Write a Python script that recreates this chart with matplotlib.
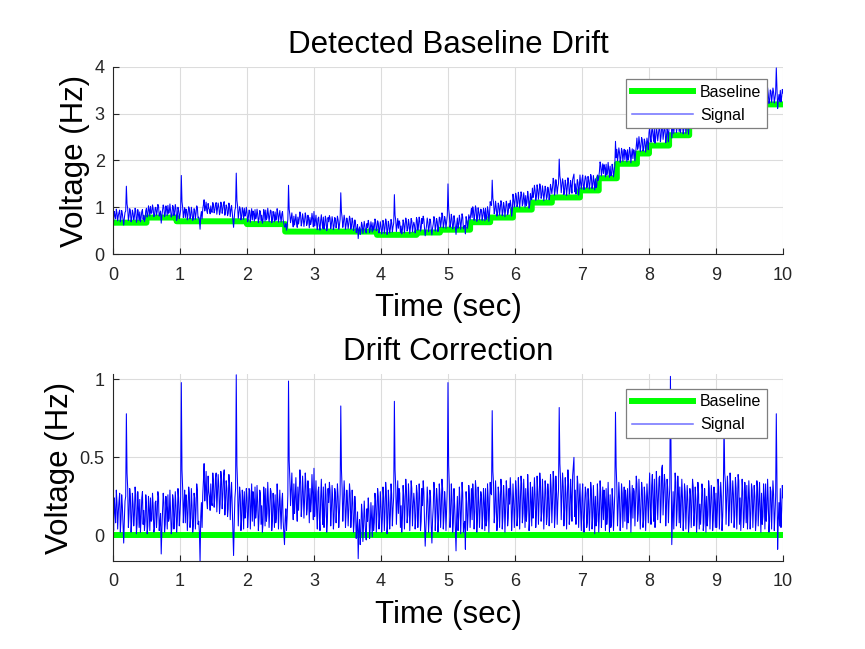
import numpy as np
import matplotlib
matplotlib.use("Agg")
import matplotlib.pyplot as plt

plt.rcParams['font.family'] = ['Liberation Sans', 'DejaVu Sans']

# drift-corrected signal, sampled every 0.02 s from 0 to 10 s
dt = 0.02
corrected = [
    0.12, 0.24, 0.08, 0.21, 0.15, 0.27, 0.10, 0.19, -0.05, 0.22, 0.78, 0.30, 0.14, 0.25, 0.09, 0.20, 0.13, 0.26, 0.07, 0.18, 0.23, 0.11, 0.28, 0.16, 0.09,
    0.20, 0.06, 0.17, 0.24, 0.10, 0.19, 0.04, 0.22, 0.13, 0.25, 0.08, -0.12, 0.16, 0.21, 0.07, 0.18, 0.26, 0.11, 0.15, 0.05, 0.23, 0.12, 0.19, 0.09, 0.24,
    0.14, 0.98, 0.30, 0.20, 0.08, 0.22, 0.15, 0.27, 0.11, 0.19, 0.06, 0.24, 0.17, 0.29, 0.09, -0.17, 0.21, 0.26, 0.46, 0.30, 0.22, 0.38, 0.25, 0.33, 0.19,
    0.34, 0.24, 0.40, 0.27, 0.31, 0.20, 0.36, 0.26, 0.42, 0.22, 0.30, 0.17, 0.33, 0.25, 0.19, -0.13, 0.24, 1.03, 0.32, 0.18, 0.26, 0.10, 0.22, 0.28, 0.15,
    0.24, 0.13, 0.29, 0.18, 0.09, 0.23, 0.31, 0.16, 0.21, 0.11, 0.27, 0.19, 0.08, 0.25, 0.30, 0.14, 0.22, 0.17, 0.28, 0.10, 0.20, 0.26, 0.12, 0.23, 0.18,
    0.15, 0.22, 0.09, -0.06, 0.17, 0.12, 0.99, 0.36, 0.29, 0.21, 0.33, 0.24, 0.18, 0.31, 0.27, 0.35, 0.20, 0.28, 0.23, 0.32, 0.17, 0.26, 0.30, 0.21, 0.27,
    0.43, 0.22, 0.15, 0.28, 0.11, 0.24, 0.19, 0.31, 0.13, 0.26, 0.09, 0.21, 0.29, 0.16, 0.23, 0.12, 0.27, 0.18, 0.25, 0.14, 0.83, 0.30, 0.20, 0.26, 0.15,
    0.22, 0.17, 0.27, 0.13, 0.21, 0.09, 0.18, 0.04, -0.15, 0.10, 0.02, 0.14, 0.06, 0.12, -0.03, 0.09, 0.16, 0.05, 0.11, 0.19, 0.08, 0.22, 0.14, 0.25, 0.12,
    0.18, 0.10, 0.24, 0.15, 0.28, 0.08, 0.21, 0.13, 0.26, 0.17, 0.86, 0.31, 0.22, 0.14, 0.27, 0.19, 0.11, 0.25, 0.20, 0.29, 0.13, 0.23, 0.16, 0.30, 0.18,
    0.21, 0.12, 0.27, 0.16, 0.24, 0.09, 0.19, 0.28, -0.07, 0.15, 0.22, 0.11, 0.25, -0.05, 0.18, 0.29, 0.14, 0.23, 0.10, 0.26, 0.17, 0.30, 0.12, 0.21, 0.16,
    0.98, 0.32, 0.14, 0.23, 0.08, 0.19, -0.10, 0.25, 0.12, 0.21, 0.16, 0.27, 0.07, -0.09, 0.20, 0.13, 0.26, 0.18, 0.10, 0.24, 0.15, 0.29, 0.11, 0.22, 0.17,
    0.25, 0.13, 0.21, 0.30, 0.10, 0.24, 0.18, 0.27, 0.80, 0.33, 0.15, 0.22, 0.09, 0.26, 0.19, 0.31, 0.12, 0.23, 0.17, 0.28, 0.11, 0.20, 0.26, 0.14, 0.22,
    0.18, 0.29, 0.12, 0.25, 0.20, 0.33, 0.14, 0.23, 0.30, 0.16, 0.27, 0.10, 0.22, 0.31, 0.19, 0.26, 0.13, 0.28, 0.21, 0.34, 0.15, 0.24, 0.18, 0.29, 0.12,
    0.26, 0.17, 0.30, 0.21, 0.35, 0.14, 0.28, 0.22, 0.82, 0.36, 0.24, 0.31, 0.16, 0.27, 0.20, 0.33, 0.13, 0.25, 0.38, 0.50, 0.29, 0.18, 0.32, 0.22, 0.15,
    0.24, 0.11, 0.20, 0.27, 0.08, 0.22, 0.16, 0.29, 0.12, 0.19, 0.25, 0.09, 0.21, 0.14, 0.28, 0.17, 0.10, 0.23, 0.30, 0.13, 0.19, 0.26, 0.07, 0.22, 0.15,
    0.79, 0.31, 0.18, 0.24, 0.12, 0.27, 0.20, 0.09, 0.23, 0.30, 0.15, 0.26, 0.19, 0.11, 0.28, 0.21, 0.33, 0.14, 0.22, 0.17, 0.29, 0.10, 0.25, 0.18, 0.23,
    0.27, 0.18, 0.32, 0.21, 0.36, 0.15, 0.29, 0.24, 0.38, 0.19, 0.45, 0.26, 0.33, 0.17, 0.30, 0.22, 1.02, -0.06, 0.28, 0.20, 0.34, 0.16, 0.27, 0.31, 0.19,
    0.24, 0.12, 0.28, 0.17, 0.22, 0.09, 0.26, 0.19, 0.31, 0.14, 0.23, 0.11, 0.27, 0.20, 0.16, 0.29, 0.08, 0.21, 0.25, 0.13, 0.30, 0.18, 0.24, 0.10, 0.22,
    0.27, 0.15, 0.31, 0.20, 0.25, 0.12, 0.74, 0.34, 0.23, 0.29, 0.16, 0.33, 0.21, 0.26, 0.13, 0.30, 0.19, 0.35, 0.24, 0.17, 0.28, 0.11, 0.26, 0.32, 0.18,
    0.23, 0.14, 0.29, 0.18, 0.25, 0.10, 0.31, 0.20, 0.16, 0.27, 0.12, 0.24, 0.33, 0.17, 0.22, 0.09, 0.28, 0.19, 0.26, 0.13, 0.78, -0.09, 0.21, 0.30, 0.16,
    0.24,
]

# in-between samples (0.01, 0.03, ... s)
corrected_mid = [
    0.03, 0.15, 0.29, 0.04, 0.22, 0.02, 0.26, 0.06, 0.10, 0.25, 0.40, 0.05, 0.30, 0.02, 0.27, 0.06, 0.31, 0.01, 0.28, 0.05, 0.02, 0.24, 0.07, 0.03, 0.26,
    0.01, 0.25, 0.03, 0.09, 0.27, 0.02, 0.21, 0.05, 0.28, 0.03, 0.14, 0.04, 0.27, 0.02, 0.25, 0.04, 0.09, 0.29, 0.01, 0.26, 0.04, 0.28, 0.02, 0.30, 0.06,
    0.24, 0.42, 0.08, 0.29, 0.26, 0.03, 0.31, 0.05, 0.30, 0.02, 0.27, 0.04, 0.33, 0.07, 0.02, 0.12, 0.05, 0.35, 0.22, 0.41, 0.17, 0.28, 0.16, 0.21, 0.40,
    0.18, 0.37, 0.15, 0.39, 0.14, 0.41, 0.17, 0.38, 0.13, 0.35, 0.12, 0.39, 0.10, 0.34, 0.05, 0.08, 0.30, 0.45, 0.06, 0.31, 0.03, 0.29, 0.04, 0.11, 0.30,
    0.05, 0.30, 0.04, 0.33, 0.28, 0.06, 0.11, 0.32, 0.03, 0.29, 0.07, 0.02, 0.31, 0.06, 0.09, 0.34, 0.05, 0.30, 0.03, 0.27, 0.05, 0.08, 0.33, 0.04, 0.29,
    0.04, 0.27, 0.02, 0.10, 0.03, 0.26, 0.48, 0.19, 0.40, 0.10, 0.14, 0.37, 0.09, 0.16, 0.42, 0.12, 0.38, 0.11, 0.40, 0.13, 0.35, 0.08, 0.15, 0.39, 0.10,
    0.12, 0.35, 0.04, 0.31, 0.03, 0.36, 0.07, 0.05, 0.33, 0.02, 0.30, 0.34, 0.06, 0.32, 0.04, 0.30, 0.08, 0.33, 0.05, 0.26, 0.42, 0.09, 0.35, 0.05, 0.29,
    0.06, 0.33, 0.05, 0.29, 0.02, 0.25, -0.02, 0.15, 0.03, -0.06, 0.20, -0.04, 0.22, 0.01, 0.17, 0.24, -0.02, 0.21, -0.01, 0.03, 0.27, 0.02, 0.30, 0.04, 0.28,
    0.02, 0.31, 0.03, 0.34, 0.01, 0.29, 0.04, 0.33, 0.06, 0.25, 0.42, 0.07, 0.35, 0.30, 0.05, 0.02, 0.32, 0.04, 0.36, 0.08, 0.33, 0.03, 0.35, 0.06, 0.27,
    0.04, 0.32, 0.05, 0.33, 0.03, 0.30, 0.35, 0.08, 0.04, 0.31, 0.02, 0.29, 0.06, 0.10, 0.34, 0.03, 0.30, 0.02, 0.33, 0.05, 0.36, 0.04, 0.28, 0.03, 0.31,
    0.45, 0.05, 0.33, 0.02, 0.30, 0.04, 0.12, 0.03, 0.31, 0.01, 0.34, 0.02, 0.09, 0.28, 0.03, 0.32, 0.05, 0.30, 0.33, 0.04, 0.35, 0.02, 0.31, 0.05, 0.28,
    0.04, 0.30, 0.03, 0.06, 0.33, 0.02, 0.34, 0.26, 0.41, 0.08, 0.35, 0.03, 0.31, 0.05, 0.36, 0.04, 0.32, 0.02, 0.35, 0.06, 0.30, 0.37, 0.03, 0.33, 0.05,
    0.35, 0.06, 0.37, 0.04, 0.38, 0.08, 0.36, 0.05, 0.09, 0.39, 0.03, 0.34, 0.06, 0.11, 0.37, 0.05, 0.38, 0.07, 0.40, 0.09, 0.36, 0.04, 0.35, 0.07, 0.33,
    0.06, 0.39, 0.08, 0.41, 0.05, 0.38, 0.07, 0.30, 0.46, 0.10, 0.40, 0.06, 0.37, 0.04, 0.42, 0.07, 0.36, 0.09, 0.44, 0.12, 0.07, 0.38, 0.05, 0.33, 0.03,
    0.33, 0.02, 0.31, 0.05, 0.30, 0.03, 0.34, 0.04, 0.32, 0.01, 0.06, 0.33, 0.02, 0.35, 0.05, 0.31, 0.29, 0.03, 0.07, 0.34, 0.02, 0.05, 0.30, 0.03, 0.27,
    0.44, 0.06, 0.34, 0.03, 0.33, 0.05, 0.31, 0.29, 0.04, 0.08, 0.35, 0.02, 0.32, 0.30, 0.06, 0.38, 0.09, 0.36, 0.04, 0.34, 0.05, 0.31, 0.03, 0.33, 0.08,
    0.40, 0.07, 0.39, 0.09, 0.05, 0.41, 0.10, 0.37, 0.08, 0.43, 0.13, 0.39, 0.06, 0.36, 0.08, 0.30, 0.45, 0.12, 0.04, 0.40, 0.06, 0.38, 0.08, 0.05, 0.36,
    0.03, 0.33, 0.04, 0.32, 0.02, 0.30, 0.05, 0.36, 0.06, 0.31, 0.02, 0.34, 0.04, 0.07, 0.33, 0.03, 0.30, 0.02, 0.06, 0.35, 0.04, 0.32, 0.03, 0.31, 0.05,
    0.05, 0.36, 0.04, 0.34, 0.03, 0.28, 0.40, 0.07, 0.38, 0.06, 0.40, 0.08, 0.35, 0.05, 0.37, 0.04, 0.39, 0.07, 0.03, 0.36, 0.05, 0.34, 0.08, 0.04, 0.35,
    0.04, 0.33, 0.05, 0.32, 0.03, 0.35, 0.06, 0.34, 0.02, 0.07, 0.33, 0.04, 0.09, 0.36, 0.02, 0.31, 0.04, 0.35, 0.03, 0.25, 0.35, 0.10, 0.06, 0.05, 0.32,
]

# detected baseline: step edges (sec) and level on each step
step_edges = [0, 0.5, 0.95, 2.0, 2.57, 3.94, 4.53, 4.88, 5.33, 5.63, 5.97, 6.25, 6.55,
              6.97, 7.25, 7.52, 7.82, 8.0, 8.3, 8.6, 9.0, 9.3, 9.62, 10.01]
step_levels = [0.67, 0.78, 0.70, 0.64, 0.48, 0.41, 0.46, 0.52, 0.68, 0.78, 0.95, 1.10,
               1.21, 1.36, 1.62, 1.93, 2.15, 2.32, 2.54, 2.75, 2.95, 3.10, 3.20]

t_a = np.arange(len(corrected)) * dt
t_b = (np.arange(len(corrected_mid)) + 0.5) * dt
t = np.concatenate([t_a, t_b])
vals = np.concatenate([corrected, corrected_mid])
order = np.argsort(t, kind='stable')
t = t[order]
corr = vals[order]

idx = np.searchsorted(step_edges, t, side='right') - 1
baseline = np.array(step_levels)[idx]
signal = baseline + corr

green = '#00ff00'
axcol = '#262626'

fig = plt.figure(figsize=(8.65, 6.49), dpi=100)
ax1 = fig.add_axes([0.1306, 0.6086, 0.7746, 0.2882])
ax2 = fig.add_axes([0.1306, 0.1356, 0.7746, 0.2881])

def style(ax):
    for s in ['top', 'right']:
        ax.spines[s].set_visible(False)
    for s in ['left', 'bottom']:
        ax.spines[s].set_color(axcol)
        ax.spines[s].set_linewidth(0.8)
    ax.tick_params(direction='in', length=4, colors=axcol, labelsize=13)
    ax.tick_params(axis='x', pad=9)
    ax.tick_params(axis='y', pad=6)
    ax.grid(True, color='#dcdcdc', linewidth=0.8)
    ax.set_axisbelow(True)
    ax.set_xlim(0, 10)
    ax.set_xticks(range(0, 11))
    ax.set_xlabel('Time (sec)', fontsize=22.5, labelpad=7)
    ax.set_ylabel('Voltage (Hz)', fontsize=22.5, labelpad=3)

ax1.plot(t, baseline, color=green, lw=4.3, label='Baseline', drawstyle='steps-post')
ax1.plot(t, signal, color='b', lw=0.75, label='Signal')
style(ax1)
ax1.set_ylim(0, 4)
ax1.set_yticks([0, 1, 2, 3, 4])
ax1.set_title('Detected Baseline Drift', fontsize=22.5, pad=10)

ax2.plot(t, np.zeros_like(t), color=green, lw=4.3, label='Baseline')
ax2.plot(t, corr, color='b', lw=0.75, label='Signal')
style(ax2)
ax2.set_ylim(-0.165, 1.035)
ax2.set_yticks([0, 0.5, 1])
ax2.set_yticklabels(['0', '0.5', '1'])
ax2.set_title('Drift Correction', fontsize=22.5, pad=10)

for ax, anchor in [(ax1, (0.976, 0.936)), (ax2, (0.976, 0.921))]:
    leg = ax.legend(loc='upper right', bbox_to_anchor=anchor, fontsize=11.5,
                    fancybox=False, framealpha=1, edgecolor='#7f7f7f',
                    handlelength=3.8, borderpad=0.35, labelspacing=0.5,
                    handletextpad=0.45, borderaxespad=0)
    leg.get_frame().set_linewidth(0.9)
    leg.get_lines()[1].set_color('#6f6fff')
    leg.get_lines()[1].set_linewidth(1.1)

fig.savefig('out.png', dpi=100)
